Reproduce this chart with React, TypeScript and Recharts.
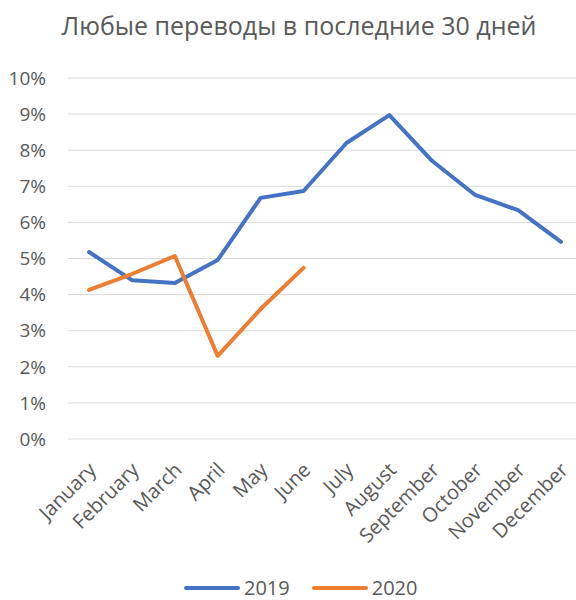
import { LineChart, Line, XAxis, YAxis, CartesianGrid } from 'recharts';

const months = [
  'January', 'February', 'March', 'April', 'May', 'June',
  'July', 'August', 'September', 'October', 'November', 'December',
];
const values2019 = [5.18, 4.4, 4.32, 4.96, 6.68, 6.87, 8.2, 8.97, 7.7, 6.76, 6.34, 5.46];
const values2020 = [4.13, 4.57, 5.07, 2.3, 3.6, 4.74];
const yTicks = [0, 1, 2, 3, 4, 5, 6, 7, 8, 9, 10];

const FONT = '"Open Sans", sans-serif';
const GRAY = '#595959';

const data = months.map((m, i) => ({
  month: m,
  y2019: values2019[i],
  y2020: i < values2020.length ? values2020[i] : null,
}));

function MonthTick(props: any) {
  const { x, y, payload } = props;
  return (
    <g transform={`translate(${x + 4},${y + 20})`}>
      <text
        x={0}
        y={0}
        dy={6}
        textAnchor="end"
        transform="rotate(-45)"
        fill={GRAY}
        fontSize={20}
        fontFamily={FONT}
      >
        {payload.value}
      </text>
    </g>
  );
}

export default function App() {
  document.body.style.margin = '0';
  return (
    <div style={{ position: 'relative', width: 576, height: 600, overflow: 'hidden', background: '#fff', fontFamily: FONT }}>
      <div
        style={{
          position: 'absolute',
          top: 8,
          left: 22,
          width: 554,
          textAlign: 'center',
          fontSize: 25,
          color: GRAY,
        }}
      >
        Любые переводы в последние 30 дней
      </div>
      <LineChart
        width={582}
        height={600}
        data={data}
        margin={{ top: 78, right: 0, bottom: 0, left: 0 }}
      >
        <CartesianGrid vertical={false} stroke="#d9d9d9" strokeWidth={1} />
        <XAxis
          dataKey="month"
          interval={0}
          height={161}
          padding={{ left: 21, right: 21 }}
          axisLine={false}
          tickLine={false}
          tick={<MonthTick />}
        />
        <YAxis
          width={68}
          domain={[0, 10]}
          ticks={yTicks}
          axisLine={false}
          tickLine={false}
          tickSize={0}
          tickMargin={22}
          tickFormatter={(v: number) => `${v}%`}
          tick={{ fill: GRAY, fontSize: 19, fontFamily: FONT }}
        />
        <Line
          dataKey="y2019"
          stroke="#4472C4"
          strokeWidth={4}
          strokeLinecap="round"
          strokeLinejoin="round"
          dot={false}
          isAnimationActive={false}
        />
        <Line
          dataKey="y2020"
          stroke="#ED7D31"
          strokeWidth={4}
          strokeLinecap="round"
          strokeLinejoin="round"
          dot={false}
          connectNulls={false}
          isAnimationActive={false}
        />
      </LineChart>
      <div
        style={{
          position: 'absolute',
          top: 577,
          left: 184,
          display: 'flex',
          alignItems: 'center',
          fontSize: 20,
          color: GRAY,
          lineHeight: '22px',
        }}
      >
        <span style={{ display: 'inline-block', width: 56, height: 4, borderRadius: 2, background: '#4472C4', marginRight: 4 }} />
        <span style={{ marginRight: 22 }}>2019</span>
        <span style={{ display: 'inline-block', width: 56, height: 4, borderRadius: 2, background: '#ED7D31', marginRight: 4 }} />
        <span>2020</span>
      </div>
    </div>
  );
}
